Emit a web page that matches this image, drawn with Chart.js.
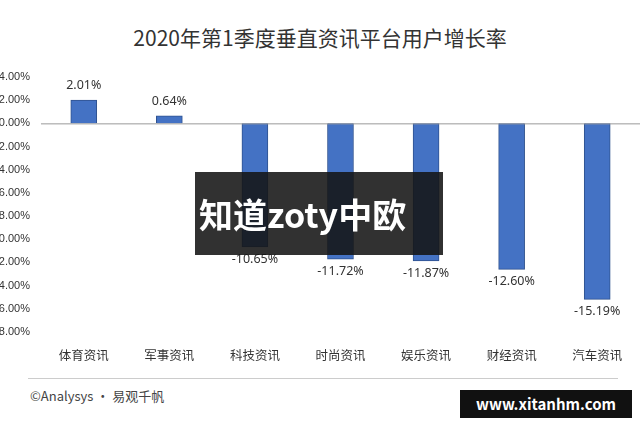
<!DOCTYPE html>
<html>
<head>
<meta charset="utf-8">
<script src="https://cdn.jsdelivr.net/npm/chart.js@4"></script>
<style>
body { margin: 0; width: 640px; height: 427px; overflow: hidden; background: #fff; font-family: "Noto Sans CJK SC", "Noto Sans", sans-serif; position: relative; }
#title { position: absolute; top: 22px; width: 640px; text-align: center; font-size: 21px; color: #333; }
#wrap { position: absolute; left: -14px; top: 60px; width: 660px; height: 311px; }
#foot { position: absolute; left: 30px; top: 386px; font-size: 13px; color: #444; }
#sep { position: absolute; left: 28px; top: 378px; width: 590px; border-top: 1px solid #ccc; }
#wm { position: absolute; left: 195px; top: 172px; width: 248px; height: 83px; background: rgba(20,20,20,0.88); color: #fff; font-size: 34px; font-weight: bold; line-height: 83px; padding-left: 4px; box-sizing: border-box; }
#site { position: absolute; left: 460px; top: 390px; width: 172px; height: 28px; background: #111; color: #fff; font-size: 15px; font-weight: bold; line-height: 28px; text-align: center; }
</style>
</head>
<body>
<div id="title">2020年第1季度垂直资讯平台用户增长率</div>
<div id="wrap"><canvas id="c"></canvas></div>
<div id="sep"></div>
<div id="foot">©Analysys · 易观千帆</div>
<div id="wm">知道zoty中欧</div>
<div id="site">www.xitanhm.com</div>
<script>
const categories = ['体育资讯', '军事资讯', '科技资讯', '时尚资讯', '娱乐资讯', '财经资讯', '汽车资讯'];
const growth = [2.01, 0.64, -10.65, -11.72, -11.87, -12.60, -15.19];
const yTicks = [4, 2, 0, -2, -4, -6, -8, -10, -12, -14, -16, -18];

const labelPlugin = {
    id: 'labels',
    afterDatasetsDraw(chart) {
        const ctx = chart.ctx;
        const meta = chart.getDatasetMeta(0);
        ctx.save();
        ctx.font = '12.5px "Noto Sans", sans-serif';
        ctx.fillStyle = '#333';
        ctx.textAlign = 'center';
        meta.data.forEach((bar, i) => {
            const v = growth[i];
            if (v >= 0) {
                ctx.textBaseline = 'bottom';
                ctx.fillText(v.toFixed(2) + '%', bar.x, bar.y - 8);
            } else {
                ctx.textBaseline = 'top';
                ctx.fillText(v.toFixed(2) + '%', bar.x, bar.y + 6);
            }
        });
        const y0 = chart.scales.y.getPixelForValue(0);
        ctx.strokeStyle = '#999';
        ctx.lineWidth = 1;
        ctx.beginPath();
        ctx.moveTo(chart.chartArea.left, y0 + 0.5);
        ctx.lineTo(chart.chartArea.right, y0 + 0.5);
        ctx.stroke();
        ctx.restore();
    }
};

new Chart(document.getElementById('c'), {
    type: 'bar',
    data: {
        labels: categories,
        datasets: [{
            data: growth,
            backgroundColor: '#4472C4',
            borderColor: '#2F528F',
            borderWidth: 1,
            barThickness: 26
        }]
    },
    options: {
        responsive: true,
        maintainAspectRatio: false,
        animation: false,
        layout: { padding: { top: 17, right: 6, bottom: 0 } },
        plugins: { legend: { display: false }, tooltip: { enabled: false } },
        scales: {
            x: {
                grid: { display: false },
                border: { display: false },
                ticks: { color: '#333', padding: 8, font: { size: 12.5, family: '"Noto Sans CJK SC"' } }
            },
            y: {
                min: -18, max: 4,
                afterBuildTicks: (axis) => { axis.ticks = yTicks.map(v => ({ value: v })); },
                grid: { display: false },
                border: { display: false },
                ticks: { color: '#333', font: { size: 11 }, callback: v => v.toFixed(2) + '%' }
            }
        }
    },
    plugins: [labelPlugin]
});
</script>
</body>
</html>
